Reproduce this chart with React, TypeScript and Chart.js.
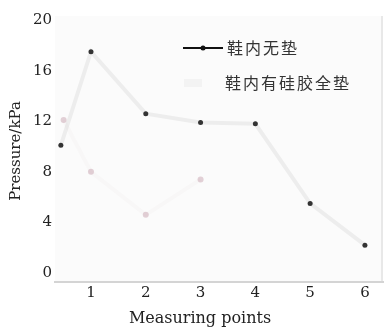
import React, { useEffect, useRef } from "react";
import { Chart, registerables } from "chart.js";

Chart.register(...registerables);

// Axis ticks
const xTickValues = [1, 2, 3, 4, 5, 6];
const yTickValues = [0, 4, 8, 12, 16, 20];

// 鞋内无垫 (no insole)
const noInsoleX = [0.45, 1, 2, 3, 4, 5, 6];
const noInsoleY = [10.1, 17.5, 12.6, 11.9, 11.8, 5.5, 2.2];

// 鞋内有硅胶全垫 (full silicone insole)
const siliconeX = [0.5, 1, 2, 3];
const siliconeY = [12.1, 8.0, 4.6, 7.4];

const seriesNames = ["鞋内无垫", "鞋内有硅胶全垫"];
const xTitle = "Measuring points";
const yTitle = "Pressure/kPa";

const SERIF = "'DejaVu Serif', 'Liberation Serif', serif";
const CJK = "'Noto Sans CJK SC', sans-serif";

export default function App() {
  const canvasRef = useRef<HTMLCanvasElement>(null);

  useEffect(() => {
    document.body.style.margin = "0";
    const canvas = canvasRef.current;
    if (!canvas) return;

    const plotBackground = {
      id: "plotBackground",
      beforeDraw(chart: any) {
        const { ctx, chartArea: a } = chart;
        ctx.save();
        ctx.fillStyle = "#fbfbfb";
        ctx.fillRect(a.left, a.top, a.right - a.left, a.bottom - a.top);
        ctx.fillStyle = "#e8e8e8";
        ctx.fillRect(a.right - 2, a.top, 2, a.bottom - a.top);
        ctx.restore();
      },
    };

    const textLayer = {
      id: "textLayer",
      afterDraw(chart: any) {
        const { ctx } = chart;
        ctx.save();
        ctx.fillStyle = "#222";
        // axis titles
        ctx.font = `16px ${SERIF}`;
        ctx.textAlign = "center";
        ctx.textBaseline = "middle";
        ctx.fillText(xTitle, 200, 319);
        ctx.save();
        ctx.translate(16, 151);
        ctx.rotate(-Math.PI / 2);
        ctx.font = `15px ${SERIF}`;
        ctx.fillText(yTitle, 0, 0);
        ctx.restore();

        // legend
        ctx.textAlign = "left";
        ctx.font = `16px ${CJK}`;
        (ctx as any).letterSpacing = "2px";
        ctx.strokeStyle = "#111";
        ctx.lineWidth = 2;
        ctx.beginPath();
        ctx.moveTo(183, 48);
        ctx.lineTo(223, 48);
        ctx.stroke();
        ctx.fillStyle = "#111";
        ctx.beginPath();
        ctx.arc(203, 48, 2.5, 0, Math.PI * 2);
        ctx.fill();
        ctx.fillStyle = "#333";
        ctx.fillText(seriesNames[0], 227, 48);

        ctx.strokeStyle = "rgba(0,0,0,0.03)";
        ctx.lineWidth = 8;
        ctx.beginPath();
        ctx.moveTo(184, 83);
        ctx.lineTo(202, 83);
        ctx.stroke();
        ctx.fillStyle = "#333";
        ctx.fillText(seriesNames[1], 225, 83);
        ctx.restore();
      },
    };

    const chart = new Chart(canvas, {
      type: "line",
      data: {
        datasets: [
          {
            label: seriesNames[0],
            data: noInsoleX.map((x, i) => ({ x, y: noInsoleY[i] })),
            borderColor: "rgba(0,0,0,0.055)",
            borderWidth: 4,
            pointRadius: 2.5,
            pointBackgroundColor: "#333",
            pointBorderWidth: 0,
          },
          {
            label: seriesNames[1],
            data: siliconeX.map((x, i) => ({ x, y: siliconeY[i] })),
            borderColor: "rgba(120,80,90,0.025)",
            borderWidth: 4,
            pointRadius: 3,
            pointBackgroundColor: "rgba(170,110,130,0.3)",
            pointBorderWidth: 0,
          },
        ],
      },
      options: {
        animation: false,
        responsive: false,
        maintainAspectRatio: false,
        layout: { padding: { top: 16, right: 5, left: 0, bottom: 0 } },
        plugins: { legend: { display: false }, tooltip: { enabled: false } },
        scales: {
          x: {
            type: "linear",
            min: 0.343,
            max: 6.33,
            afterBuildTicks: (s: any) => {
              s.ticks = xTickValues.map((v) => ({ value: v }));
            },
            afterFit: (s: any) => {
              s.height = 47;
            },
            grid: { display: false, drawTicks: false },
            border: { color: "#d4d4d4", width: 2 },
            ticks: {
              font: { family: SERIF, size: 15 },
              color: "#222",
              padding: 2,
              maxRotation: 0,
            },
          },
          y: {
            type: "linear",
            min: -0.71,
            max: 20.32,
            afterBuildTicks: (s: any) => {
              s.ticks = yTickValues.map((v) => ({ value: v }));
            },
            afterFit: (s: any) => {
              s.width = 55;
            },
            grid: { display: false, drawTicks: false },
            border: { display: false },
            ticks: {
              font: { family: SERIF, size: 15 },
              color: "#222",
              padding: 3,
            },
          },
        },
      },
      plugins: [plotBackground, textLayer],
    });

    return () => chart.destroy();
  }, []);

  return (
    <canvas
      ref={canvasRef}
      width={388}
      height={329}
      style={{ display: "block", width: 388, height: 329 }}
    />
  );
}
